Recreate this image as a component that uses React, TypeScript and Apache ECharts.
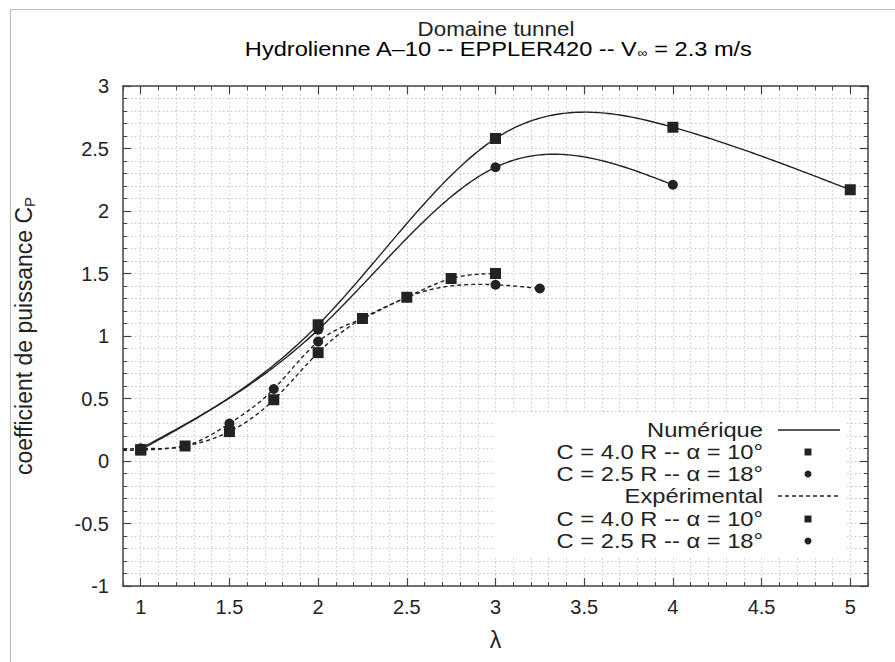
import React, { useEffect, useRef } from 'react';
import * as echarts from 'echarts';

// ---- data ----
const xTickLabels = [1, 1.5, 2, 2.5, 3, 3.5, 4, 4.5, 5];

const numSqX = [1, 2, 3, 4, 5];
const numSqY = [0.09, 1.09, 2.58, 2.67, 2.17];

const numCiX = [1, 2, 3, 4];
const numCiY = [0.1, 1.05, 2.35, 2.21];

const expSqX = [0.85, 1, 1.25, 1.5, 1.75, 2, 2.25, 2.5, 2.75, 3];
const expSqY = [0.085, 0.088, 0.12, 0.235, 0.49, 0.867, 1.14, 1.31, 1.46, 1.5];

const expCiX = [0.85, 1, 1.25, 1.5, 1.75, 2, 2.25, 2.5, 3, 3.25];
const expCiY = [0.085, 0.1, 0.12, 0.3, 0.576, 0.955, 1.14, 1.31, 1.41, 1.38];

const legendRows = [
  'Numérique',
  'C = 4.0 R -- α = 10°',
  'C = 2.5 R -- α = 18°',
  'Expérimental',
  'C = 4.0 R -- α = 10°',
  'C = 2.5 R -- α = 18°',
];

const FONT = '"Liberation Sans", Arial, Helvetica, sans-serif';
const INK = '#222';
const FRAME = '#444';
const X_MIN = 0.9;
const X_MAX = 5.1;

const pairs = (xs: number[], ys: number[]) => xs.map((x, i) => [x, ys[i]]);

// natural cubic spline through the data points (curve drawing only)
function naturalSpline(xs: number[], ys: number[]) {
  const n = xs.length;
  const h: number[] = [];
  for (let i = 0; i < n - 1; i++) h.push(xs[i + 1] - xs[i]);
  const M = new Array(n).fill(0);
  if (n > 2) {
    const a: number[] = [], b: number[] = [], c: number[] = [], d: number[] = [];
    for (let i = 1; i < n - 1; i++) {
      a.push(h[i - 1]);
      b.push(2 * (h[i - 1] + h[i]));
      c.push(h[i]);
      d.push(6 * ((ys[i + 1] - ys[i]) / h[i] - (ys[i] - ys[i - 1]) / h[i - 1]));
    }
    const m = b.length;
    for (let i = 1; i < m; i++) {
      const w = a[i] / b[i - 1];
      b[i] -= w * c[i - 1];
      d[i] -= w * d[i - 1];
    }
    const sol = new Array(m).fill(0);
    sol[m - 1] = d[m - 1] / b[m - 1];
    for (let i = m - 2; i >= 0; i--) sol[i] = (d[i] - c[i] * sol[i + 1]) / b[i];
    for (let i = 0; i < m; i++) M[i + 1] = sol[i];
  }
  return (x: number) => {
    let i = 0;
    while (i < n - 2 && x > xs[i + 1]) i++;
    const hi = h[i];
    const t1 = xs[i + 1] - x;
    const t0 = x - xs[i];
    return (
      (M[i] * t1 * t1 * t1) / (6 * hi) +
      (M[i + 1] * t0 * t0 * t0) / (6 * hi) +
      (ys[i] / hi - (M[i] * hi) / 6) * t1 +
      (ys[i + 1] / hi - (M[i + 1] * hi) / 6) * t0
    );
  };
}

function curveSeries(xs: number[], ys: number[], dashed: boolean) {
  const f = naturalSpline(xs, ys);
  const last = xs.length - 1;
  return {
    type: 'custom',
    xAxisIndex: 0,
    yAxisIndex: 0,
    clip: true,
    silent: true,
    z: 2,
    data: pairs(xs, ys),
    encode: { x: 0, y: 1 },
    renderItem: (params: any, api: any) => {
      if (params.dataIndex !== last) return null;
      const pts: number[][] = [];
      const x0 = Math.max(xs[0], X_MIN);
      const x1 = Math.min(xs[last], X_MAX);
      const steps = 240;
      for (let k = 0; k <= steps; k++) {
        const x = x0 + ((x1 - x0) * k) / steps;
        pts.push(api.coord([x, f(x)]));
      }
      return {
        type: 'polyline',
        shape: { points: pts },
        style: { stroke: INK, lineWidth: 1.4, fill: 'none', lineDash: dashed ? [4, 3] : null },
      };
    },
  };
}

function markerSeries(xs: number[], ys: number[], symbol: string, size: number, z: number) {
  return {
    type: 'scatter',
    xAxisIndex: 0,
    yAxisIndex: 0,
    clip: true,
    data: pairs(xs, ys),
    symbol,
    symbolSize: size,
    z,
    itemStyle: { color: INK, opacity: 1 },
  };
}

const gridLine = { show: true, lineStyle: { color: '#c6c6c6', type: [1.5, 2.5] as any, width: 1 } };
const frameLine = { show: true, onZero: false, lineStyle: { color: FRAME, width: 1.5 } };

function minorX(pos: string, grid: boolean) {
  return {
    type: 'value', min: X_MIN, max: X_MAX, interval: 0.1, position: pos,
    axisLine: frameLine,
    axisTick: { show: true, inside: true, length: 4, lineStyle: { color: FRAME, width: 1 } },
    axisLabel: { show: false },
    splitLine: grid ? gridLine : { show: false },
  };
}
function majorX(pos: string, labels: boolean) {
  return {
    type: 'value', min: X_MIN, max: X_MAX, position: pos,
    axisLine: { show: false, onZero: false },
    axisTick: { show: true, inside: true, length: 8, customValues: xTickLabels, lineStyle: { color: FRAME, width: 1.2 } },
    axisLabel: labels
      ? { show: true, customValues: xTickLabels, margin: 11, fontSize: 20, color: INK, fontFamily: FONT }
      : { show: false },
    splitLine: { show: false },
    ...(labels
      ? { name: 'λ', nameLocation: 'middle', nameGap: 42, nameTextStyle: { fontSize: 23, color: INK, fontFamily: FONT } }
      : {}),
  };
}
function minorY(pos: string, grid: boolean) {
  return {
    type: 'value', min: -1, max: 3, interval: 0.1, position: pos,
    axisLine: frameLine,
    axisTick: { show: true, inside: true, length: 4, lineStyle: { color: FRAME, width: 1 } },
    axisLabel: { show: false },
    splitLine: grid ? gridLine : { show: false },
  };
}
function majorY(pos: string, labels: boolean) {
  return {
    type: 'value', min: -1, max: 3, interval: 0.5, position: pos,
    axisLine: { show: false, onZero: false },
    axisTick: { show: true, inside: true, length: 8, lineStyle: { color: FRAME, width: 1.2 } },
    axisLabel: labels
      ? { show: true, margin: 14, fontSize: 20, color: INK, fontFamily: FONT }
      : { show: false },
    splitLine: { show: false },
    ...(labels
      ? {
          name: 'coefficient de puissance C{sub|P}',
          nameLocation: 'middle',
          nameGap: 86,
          nameRotate: 90,
          nameTextStyle: {
            fontSize: 23, color: INK, fontFamily: FONT, lineHeight: 26,
            rich: { sub: { fontSize: 15, color: INK, fontFamily: FONT, verticalAlign: 'bottom', lineHeight: 15 } },
          },
        }
      : {}),
  };
}

const legendX = 763;
const legendY = [430, 452, 474, 496, 519, 541];

function buildGraphic() {
  const els: any[] = [];
  // page frame (top and left only)
  els.push({ type: 'line', shape: { x1: 10, y1: 9.5, x2: 895, y2: 9.5 }, style: { stroke: '#bdbdbd', lineWidth: 1.2 }, z: 0 });
  els.push({ type: 'line', shape: { x1: 10.5, y1: 9, x2: 10.5, y2: 662 }, style: { stroke: '#bdbdbd', lineWidth: 1.2 }, z: 0 });
  // title
  els.push({
    type: 'text', x: 496, y: 29, z: 10, scaleX: 1.12,
    style: { text: 'Domaine tunnel', fill: INK, font: `20px ${FONT}`, align: 'center', verticalAlign: 'middle' },
  });
  els.push({
    type: 'text', x: 498, y: 49, z: 10, scaleX: 1.18,
    style: {
      text: '{a|Hydrolienne A–10 -- EPPLER420 -- V}{s|∞}{a| = 2.3 m/s}',
      align: 'center', verticalAlign: 'middle',
      rich: {
        a: { fontSize: 20, fontFamily: FONT, color: INK, lineHeight: 20 },
        s: { fontSize: 12, fontFamily: FONT, color: INK, lineHeight: 12, verticalAlign: 'bottom' },
      },
    },
  });
  // legend box
  els.push({ type: 'rect', shape: { x: 493, y: 412, width: 354, height: 144 }, style: { fill: '#fff' }, z: 5 });
  legendRows.forEach((t, i) => {
    els.push({
      type: 'text', x: legendX, y: legendY[i], z: 6, scaleX: 1.13,
      style: { text: t, fill: INK, font: `21px ${FONT}`, align: 'right', verticalAlign: 'middle' },
    });
  });
  els.push({ type: 'line', shape: { x1: 778, y1: legendY[0], x2: 840, y2: legendY[0] }, style: { stroke: INK, lineWidth: 1.4 }, z: 6 });
  els.push({ type: 'line', shape: { x1: 778, y1: legendY[3], x2: 840, y2: legendY[3] }, style: { stroke: INK, lineWidth: 1.4, lineDash: [4, 3] }, z: 6 });
  [1, 4].forEach((i) => {
    els.push({ type: 'rect', shape: { x: 804.5, y: legendY[i] - 3.5, width: 7, height: 7 }, style: { fill: INK }, z: 6 });
  });
  [2, 5].forEach((i) => {
    els.push({ type: 'circle', shape: { cx: 808, cy: legendY[i], r: 3.5 }, style: { fill: INK }, z: 6 });
  });
  return els;
}

export default function App() {
  const ref = useRef<HTMLDivElement>(null);
  useEffect(() => {
    const chart = echarts.init(ref.current!, null, { renderer: 'svg' });
    const option: any = {
      animation: false,
      backgroundColor: '#fff',
      textStyle: { fontFamily: FONT },
      grid: { left: 123, top: 86, right: 27, bottom: 76, containLabel: false },
      xAxis: [minorX('bottom', true), majorX('bottom', true), minorX('top', false), majorX('top', false)],
      yAxis: [minorY('left', true), majorY('left', true), minorY('right', false), majorY('right', false)],
      series: [
        curveSeries(numCiX, numCiY, false),
        curveSeries(numSqX, numSqY, false),
        curveSeries(expCiX, expCiY, true),
        curveSeries(expSqX, expSqY, true),
        markerSeries(numCiX, numCiY, 'circle', 10, 3),
        markerSeries(numSqX, numSqY, 'rect', 11, 4),
        markerSeries(expCiX, expCiY, 'circle', 10, 3),
        markerSeries(expSqX, expSqY, 'rect', 11, 4),
      ],
      graphic: buildGraphic(),
    };
    chart.setOption(option);
    return () => chart.dispose();
  }, []);
  return (
    <div
      ref={ref}
      style={{ position: 'absolute', left: 0, top: 0, width: 895, height: 662, background: '#fff' }}
    />
  );
}
